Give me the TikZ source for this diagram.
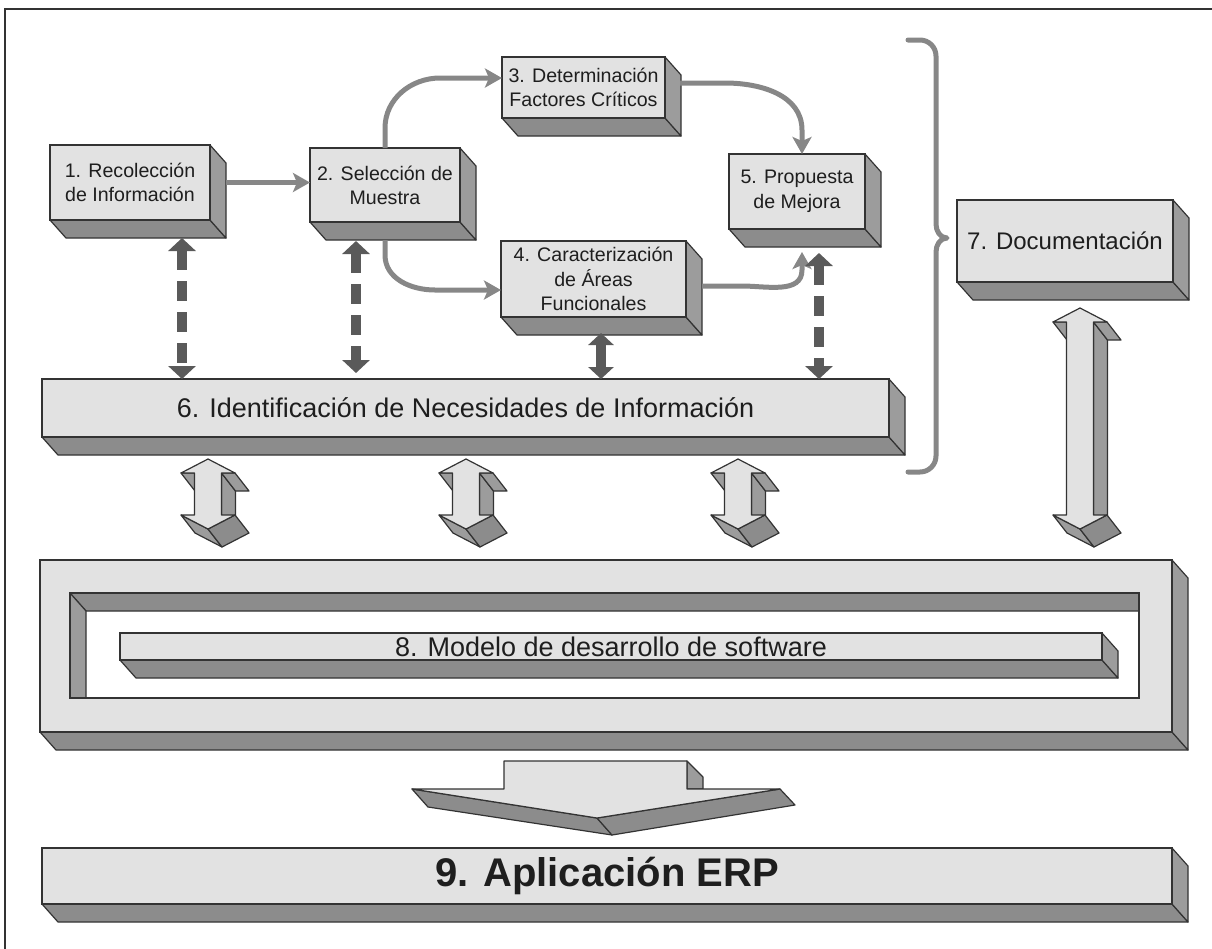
\documentclass[tikz,border=0pt]{standalone}
\usepackage{fontspec}
\setmainfont{Liberation Sans}
\usetikzlibrary{arrows.meta}
\definecolor{facec}{HTML}{E2E2E2}
\definecolor{sidec}{HTML}{9C9C9C}
\definecolor{botc}{HTML}{8C8C8C}
\definecolor{linec}{HTML}{333333}
\definecolor{flowc}{HTML}{878787}
\definecolor{dashc}{HTML}{5A5A5A}
\definecolor{txtc}{HTML}{1E1E1E}
\tikzset{
  frontbox/.style={draw=linec, fill=facec, line width=0.6pt, inner sep=0pt, outer sep=0pt,
    align=center, text=txtc, font=\fontsize{9.8}{12}\selectfont},
  frontface/.style={fill=facec, draw=linec, line width=0.6pt, line join=round},
  sideface/.style={fill=sidec, draw=linec, line width=0.6pt, line join=round},
  botface/.style={fill=botc, draw=linec, line width=0.6pt, line join=round},
  flow/.style={draw=flowc, line width=2.5pt, -{Stealth[length=8.5pt,width=9.5pt,inset=2pt]}},
  dflow/.style={draw=dashc, line width=4.6pt, dash pattern=on 10pt off 5.5pt,
    {Triangle[length=6.5pt,width=13.5pt]}-{Triangle[length=6.5pt,width=13.5pt]}},
  sflow/.style={draw=dashc, line width=4.6pt,
    {Triangle[length=6pt,width=12.5pt]}-{Triangle[length=6pt,width=12.5pt]}},
  brace/.style={draw=flowc, line width=2.5pt, line cap=round, line join=round},
}
% 3D box: name, x1, y1, x2, y2, font, text
\newcommand\boxthree[7]{%
  \filldraw[botface] (#2,#5) -- (#4,#5) -- ({#4+16},{#5+18}) -- ({#2+16},{#5+18}) -- cycle;
  \filldraw[sideface] (#4,#3) -- ({#4+16},{#3+18}) -- ({#4+16},{#5+18}) -- (#4,#5) -- cycle;
  \node[frontbox, font=#6, minimum width={(#4-#2)*0.5pt}, minimum height={(#5-#3)*0.5pt}]
    (#1) at ({(#2+#4)/2},{(#3+#5)/2}) {#7};
}
% 3D double block arrow: centre x, top y, bottom y (front face)
\newcommand\blockarr[3]{%
  \filldraw[sideface] ({#1+13.5},{#2+14}) -- ({#1+13.5},{#3-14}) -- ({#1+27.5},{#3+4}) -- ({#1+27.5},{#2+32}) -- cycle;
  \filldraw[sideface] ({#1+27},{#2+14}) -- ({#1+13.5},{#2+14}) -- ({#1+27.5},{#2+32}) -- ({#1+41},{#2+32}) -- cycle;
  \filldraw[sideface] ({#1-13.5},{#2+14}) -- ({#1-27},{#2+14}) -- ({#1-13},{#2+32}) -- ({#1+0.5},{#2+32}) -- cycle;
  \filldraw[sideface] ({#1},{#3}) -- ({#1-27},{#3-14}) -- ({#1-13},{#3+4}) -- ({#1+14},{#3+18}) -- cycle;
  \filldraw[botface] ({#1+27},{#3-14}) -- ({#1},{#3}) -- ({#1+14},{#3+18}) -- ({#1+41},{#3+4}) -- cycle;
  \filldraw[frontface] ({#1},{#2}) -- ({#1+27},{#2+14}) -- ({#1+13.5},{#2+14}) -- ({#1+13.5},{#3-14})
    -- ({#1+27},{#3-14}) -- ({#1},{#3}) -- ({#1-27},{#3-14}) -- ({#1-13.5},{#3-14})
    -- ({#1-13.5},{#2+14}) -- ({#1-27},{#2+14}) -- cycle;
}
\begin{document}
\begin{tikzpicture}[x=0.5pt,y=-0.5pt]
\useasboundingbox (0,0) rectangle (1212,949);
% frame
\draw[line width=1pt, color=linec] (5,949) -- (5,9) -- (1212,9);

% upper boxes
\boxthree{b1}{50}{145}{210}{220}{\fontsize{9.8}{12}\selectfont}{1. Recolección\\de Información}
\boxthree{b2}{310}{148}{460}{222}{\fontsize{9.8}{12}\selectfont}{2. Selección de\\Muestra}
\boxthree{b3}{502}{57}{665}{118}{\fontsize{9.8}{12}\selectfont}{3. Determinación\\Factores Críticos}
\boxthree{b4}{501}{241}{686}{317}{\fontsize{9.8}{12.3}\selectfont}{4. Caracterización\\de Áreas\\Funcionales}
\boxthree{b5}{729}{154}{865}{229}{\fontsize{9.8}{12.5}\selectfont}{5. Propuesta\\de Mejora}
\boxthree{b7}{957}{200}{1173}{282}{\fontsize{12}{14}\selectfont}{7. Documentación}
\boxthree{b6}{42}{379}{889}{437}{\fontsize{13.5}{16}\selectfont}{6. Identificación de Necesidades de Información}

% flow arrows
\draw[flow] ([xshift=8pt]b1.east) -- (b1.east -| b2.west);
\draw[flow] (b2.north) -- ++(0,-20) to[out=90,in=180] ++(55,-50) -- ([yshift=4.75pt]b3.west);
\draw[flow] ([yshift=-9pt]b2.south) -- ++(0,15) to[out=270,in=180] ++(50,35) -- ([yshift=-5.5pt]b4.west);
\draw[flow] ([xshift=7.5pt,yshift=2.25pt]b3.east) -- ++(45,0) to[out=0,in=90] ([xshift=2.5pt,yshift=12pt]b5.north) -- ([xshift=2.5pt]b5.north);
\draw[flow] ([xshift=8pt,yshift=-3.5pt]b4.east) -- ++(40,0) to[out=0,in=270] ([xshift=2.5pt,yshift=-20.5pt]b5.south) -- ([xshift=2.5pt,yshift=-11.5pt]b5.south);

% dashed / solid double arrows to box 6
\coordinate (d1s) at ([xshift=26pt,yshift=-9pt]b1.south);
\coordinate (d1e) at (d1s |- b6.north);
\draw[dflow] (d1s) -- (d1e);
\coordinate (d2s) at ([xshift=-14.5pt,yshift=-9.5pt]b2.south);
\coordinate (d2e) at (d2s |- b6.north);
\draw[dflow] (d2s) -- ([yshift=3pt]d2e);
\coordinate (d4s) at ([xshift=3.75pt,yshift=-8pt]b4.south);
\coordinate (d4e) at (d4s |- b6.north);
\draw[sflow] (d4s) -- (d4e);
\coordinate (d5s) at ([xshift=11pt,yshift=-12pt]b5.south);
\coordinate (d5e) at (d5s |- b6.north);
\draw[dflow] (d5s) -- (d5e);

% brace
\draw[brace] (908,40) -- (920,40) to[out=0,in=90] (936,56) -- (936,224)
  to[out=270,in=180] (947,238) to[out=180,in=90] (936,252) -- (936,456)
  to[out=270,in=0] (920,472) -- (908,472);

% box 8 frame
\filldraw[botface] (40,732) -- (1172,732) -- (1188,750) -- (56,750) -- cycle;
\filldraw[sideface] (1172,560) -- (1188,578) -- (1188,750) -- (1172,732) -- cycle;
\filldraw[fill=facec, draw=linec, line width=0.6pt, even odd rule] (40,560) rectangle (1172,732) (70,593) rectangle (1139,698);
\node[inner sep=0pt, outer sep=0pt, minimum width=566pt, minimum height=86pt] (b8) at (606,646) {};
\filldraw[botface] (70,593) -- (1139,593) -- (1139,611) -- (86,611) -- cycle;
\filldraw[sideface] (70,593) -- (86,611) -- (86,698) -- (70,698) -- cycle;
\draw[linec, line width=0.6pt] (70,593) rectangle (1139,698);
\boxthree{b8bar}{120}{633}{1102}{660}{\fontsize{13.5}{15}\selectfont}{8. Modelo de desarrollo de software}

% block arrows 6 <-> 8 and 7 <-> 8
\blockarr{208}{459}{529}
\blockarr{466}{459}{529}
\blockarr{738}{459}{529}
\blockarr{1080}{308}{529}

% big arrow 8 -> 9
\filldraw[sideface] (687,761) -- (703,777) -- (703,789) -- (687,789) -- cycle;
\filldraw[botface] (412,789) -- (597,818) -- (612,835) -- (428,807) -- cycle;
\filldraw[botface] (597,818) -- (780,789) -- (795,805) -- (612,835) -- cycle;
\filldraw[frontface] (504,761) -- (687,761) -- (687,789) -- (780,789) -- (597,818) -- (412,789) -- (504,789) -- cycle;

% box 9
\boxthree{b9}{42}{848}{1172}{904}{\fontsize{20}{22}\selectfont\bfseries}{9. Aplicación ERP}
\end{tikzpicture}
\end{document}
